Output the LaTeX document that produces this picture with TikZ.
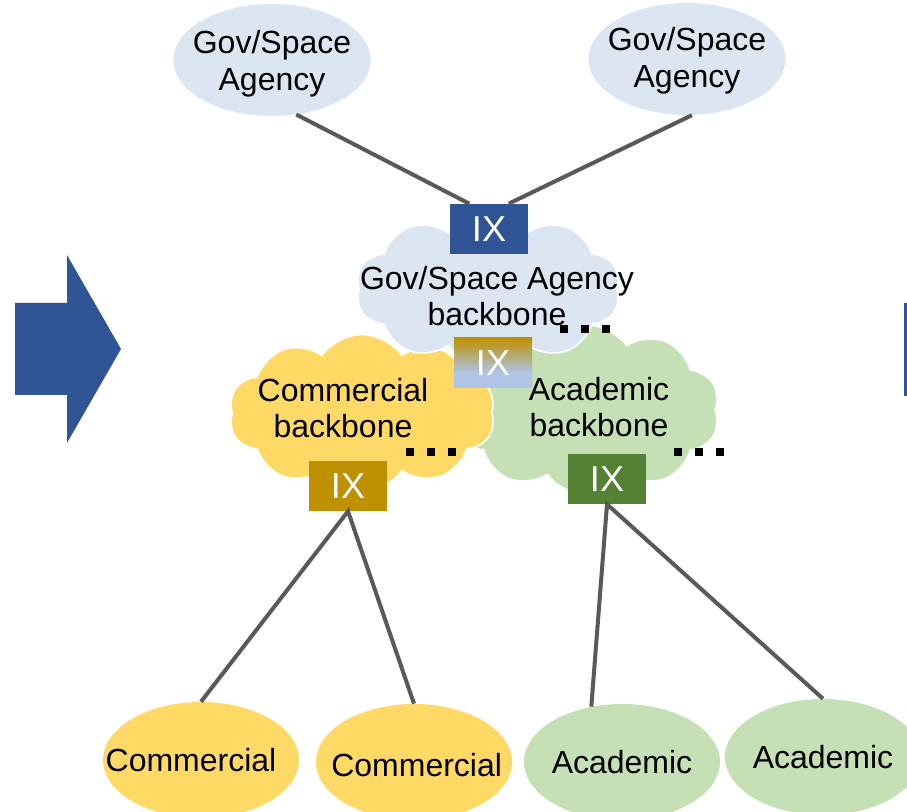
\documentclass[tikz,border=0pt]{standalone}
\usepackage{fontspec}
\setmainfont{Liberation Sans}
\usetikzlibrary{calc,shapes.geometric,shapes.symbols}

\definecolor{govfill}{HTML}{DCE6F2}
\definecolor{comfill}{HTML}{FFD966}
\definecolor{acafill}{HTML}{C5E0B4}
\definecolor{govix}{HTML}{2F5597}
\definecolor{comix}{HTML}{BF9000}
\definecolor{acaix}{HTML}{548235}
\definecolor{mixix}{HTML}{B0C4E8}
\definecolor{linkgrey}{HTML}{595959}

\pgfdeclareverticalshading{ixmix}{100bp}{color(0bp)=(mixix); color(40bp)=(mixix); color(75bp)=(comix); color(100bp)=(comix)}

\newcommand{\lblfont}{\fontsize{24}{27.5}\selectfont}
\newcommand{\ixfont}{\fontsize{27}{30}\selectfont}

\tikzset{
	agency/.style={ellipse, inner sep=0pt, fill=govfill, minimum width=148pt, minimum height=84pt},
	leaf/.style={ellipse, inner sep=0pt, minimum width=147pt, minimum height=87pt},
	backbone/.style={cloud, cloud puffs=10, cloud puff arc=110, cloud ignores aspect, draw=white, line width=1.2pt, inner sep=0pt},
	ix/.style={rectangle, inner sep=0pt, minimum width=58.5pt, minimum height=37.5pt, text=white, font=\ixfont},
	lbl/.style={align=center, font=\lblfont, inner sep=0pt},
	link/.style={draw=linkgrey, line width=3pt},
	more/.style={line width=6pt, dash pattern=on 6pt off 9.75pt}
}

\begin{document}
\begin{tikzpicture}[x=0.75pt, y=-0.75pt]
			%%%%% START %%%%%
			
			\useasboundingbox (0,0) rectangle (907,812);
			\fill[white] (0,0) rectangle (907,812);
			
			\fill[govix] (15,303) -- (67,303) -- (67,255) -- (121,349) -- (67,443) -- (67,395) -- (15,395) -- cycle;
			\fill[govix] (904,303) rectangle (907,396);
			
			\node[backbone, fill=acafill, minimum width=198.75pt, minimum height=127.5pt] (acabb) at (587,410) {};
			\node[backbone, fill=comfill, minimum width=199.5pt, minimum height=117.75pt] (combb) at (362,413) {};
			\node[backbone, fill=govfill, minimum width=198pt, minimum height=115.5pt] (govbb) at (488,289) {};
			
			\node[lbl] (govtxt) at (497,296) {Gov/Space Agency\\backbone};
			\node[lbl] (comtxt) at (343,408) {Commercial\\backbone};
			\node[lbl] (acatxt) at (599,407) {Academic\\backbone};
			
			\node[ix, fill=govix] (ixgov) at (489,229) {IX};
			\node[ix, shading=ixmix] (ixmix) at (493,363) {IX};
			\node[ix, fill=comix] (ixcom) at (348,486) {IX};
			\node[ix, fill=acaix] (ixaca) at (607,479) {IX};
			
			\node[agency, label={[lbl, yshift=-3pt]center:Gov/Space\\Agency}] (gov1) at (272,60) {};
			\node[agency, minimum width=147.75pt, label={[lbl, yshift=-1.5pt]center:Gov/Space\\Agency}] (gov2) at (687,59) {};
			
			\node[leaf, fill=comfill, label={[lbl, xshift=-7.5pt]center:Commercial}] (com1) at (201,760) {};
			\node[leaf, fill=comfill, label={[lbl, xshift=2pt, yshift=-2pt]center:Commercial}] (com2) at (414,762) {};
			\node[leaf, fill=acafill, label={[lbl]center:Academic}] (aca1) at (622,762) {};
			\node[leaf, fill=acafill, label={[lbl]center:Academic}] (aca2) at (823,757) {};
			
			\draw[link] (gov1.294) -- ($(ixgov.north)!0.5!(ixgov.north west)$);
			\draw[link] (gov2.275) -- ($(ixgov.north)!0.5!(ixgov.north east)$);
			\draw[link] (com1.north) -- (ixcom.south) -- (com2.north);
			\draw[link] (aca1.119) -- (ixaca.south) -- (aca2.north);
			
			\draw[more] (560,329) -- (610,329);
			\draw[more] (406,452) -- (456,452);
			\draw[more] (674,452) -- (724,452);
			
			%%%%% END %%%%%
\end{tikzpicture}
\end{document}
